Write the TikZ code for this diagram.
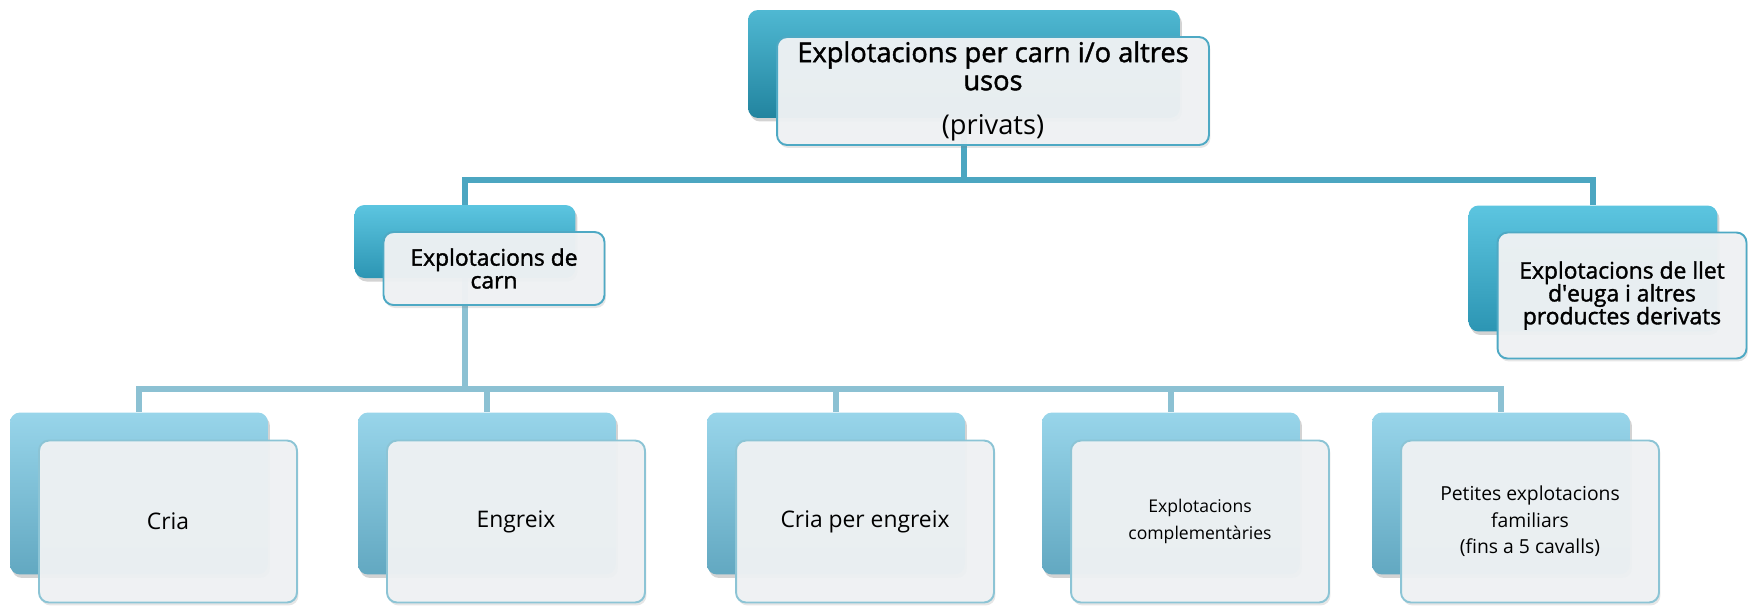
\documentclass[tikz,border=0pt]{standalone}
\usepackage{fontspec}
\setmainfont{Open Sans}
\newfontfamily\headfont[FakeBold=1.5]{Open Sans}
\usetikzlibrary{shadows, backgrounds}

\definecolor{linkA}{HTML}{4CA6C1}
\definecolor{linkB}{HTML}{8CC1D3}
\definecolor{bordA}{HTML}{4EA9C4}
\definecolor{bordB}{HTML}{8CC4D5}
\definecolor{frontfill}{HTML}{EFF2F4}
\definecolor{topA}{HTML}{4FB8D2}
\definecolor{midA}{HTML}{2EA2C1}
\definecolor{botA}{HTML}{22849F}
\definecolor{topB}{HTML}{5CC5E0}
\definecolor{midB}{HTML}{3AB3D5}
\definecolor{botB}{HTML}{2C95B3}
\definecolor{topC}{HTML}{98D5EA}
\definecolor{midC}{HTML}{7CC6DF}
\definecolor{botC}{HTML}{62A8C1}

\tikzset{
  backbox/.style={rectangle, rounded corners=0.2cm, draw=none,
    drop shadow={opacity=0.35, shadow xshift=0.04cm, shadow yshift=-0.07cm}},
  frontbox/.style={rectangle, rounded corners=0.2cm, line width=1.1pt,
    fill=frontfill, fill opacity=0.96, text opacity=1, align=center, inner sep=2pt,
    drop shadow={opacity=0.2, shadow xshift=0.03cm, shadow yshift=-0.06cm}},
  shadeA/.style={top color=topA, middle color=midA, bottom color=botA},
  shadeB/.style={top color=topB, middle color=midB, bottom color=botB},
  shadeC/.style={top color=topC, middle color=midC, bottom color=botC},
  topsize/.style={minimum width=8.64cm, minimum height=2.16cm},
  carnsize/.style={minimum width=4.42cm, minimum height=1.46cm},
  lletsize/.style={minimum width=4.98cm, minimum height=2.52cm},
  leafsize/.style={minimum width=5.16cm, minimum height=3.24cm},
  linkmain/.style={draw=linkA, line width=0.11cm},
  linkleaf/.style={draw=linkB, line width=0.11cm}
}

\begin{document}
\begin{tikzpicture}[x=0.02cm, y=-0.02cm]
    \useasboundingbox (0,0) rectangle (1754,606);

    % Arrel
    \node[backbox, shadeA, topsize] (btop) at (964,64) {};
    \node[frontbox, draw=bordA, topsize, font=\headfont\fontsize{15.5}{16}\selectfont] (top)
        at ([shift={(29,27)}]btop.center)
        {Explotacions per carn i/o altres\\usos\\[9pt]{\normalfont\fontsize{15.5}{16}\selectfont(privats)}};

    % Segon nivell
    \node[backbox, shadeB, carnsize] (bcarn) at (465,241.5) {};
    \node[frontbox, draw=bordA, carnsize, font=\headfont\fontsize{13}{13}\selectfont] (carn)
        at ([shift={(29,27)}]bcarn.center) {Explotacions de\\carn};

    \node[backbox, shadeB, lletsize] (bllet) at (1593,268.5) {};
    \node[frontbox, draw=bordA, lletsize, font=\headfont\fontsize{13}{13}\selectfont] (llet)
        at ([shift={(29,27)}]bllet.center)
        {Explotacions de llet\\d\textquotesingle euga i altres\\productes derivats};

    % Tercer nivell
    \foreach \x/\n/\s/\t in {139/cria/13/Cria, 487/engreix/13/Engreix, 836/criaeng/13/Cria per engreix,
        1171/compl/10/{Explotacions\\complementàries},
        1501/petites/11/{Petites explotacions\\familiars\\(fins a 5 cavalls)}} {
      \node[backbox, shadeC, leafsize] (b\n) at (\x,493.5) {};
      \node[frontbox, draw=bordB, leafsize, font=\fontsize{\s}{15}\selectfont] (\n)
          at ([shift={(29,28)}]b\n.center) {\t};
    }

    % Connectors
    \begin{scope}[on background layer]
      \coordinate (busA) at (0,180);
      \coordinate (busB) at (0,389);
      \draw[linkmain] (btop) -- (btop |- busA) -| (bcarn);
      \draw[linkmain] (btop |- busA) -| (bllet);
      \draw[linkleaf] (bcarn) -- (bcarn |- busB);
      \foreach \n in {cria, engreix, criaeng, compl, petites}
        \draw[linkleaf] (bcarn |- busB) -| (b\n);
    \end{scope}
\end{tikzpicture}
\end{document}
